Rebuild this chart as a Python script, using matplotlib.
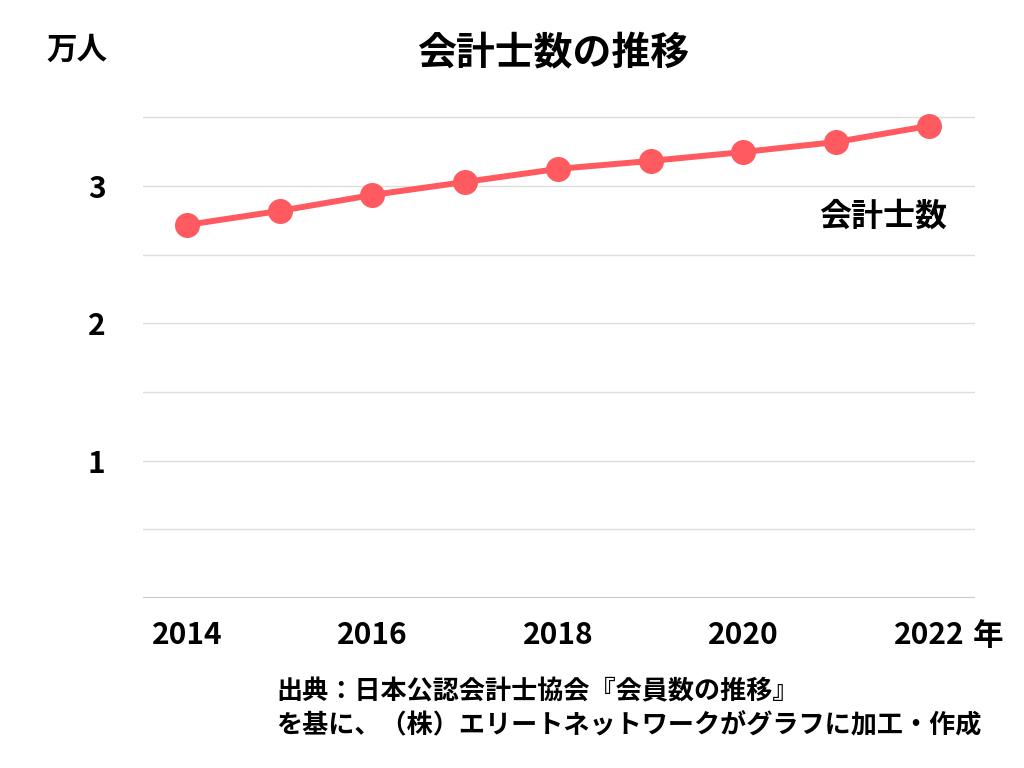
import matplotlib
matplotlib.use("Agg")
import matplotlib.pyplot as plt

plt.rcParams['font.family'] = ['Noto Sans CJK JP', 'DejaVu Sans']

years = [2014, 2015, 2016, 2017, 2018, 2019, 2020, 2021, 2022]
members = [2.717, 2.819, 2.935, 3.030, 3.125, 3.183, 3.248, 3.321, 3.438]  # 万人
xticks = [2014, 2016, 2018, 2020, 2022]
yticks = [1, 2, 3]
red = '#ff5a5f'

fig = plt.figure(figsize=(10.24, 7.68), dpi=100)
ax = fig.add_axes([0.1396, 0.2214, 0.8125, 0.6436])

ax.plot(years, members, color=red, lw=4.3, marker='o', ms=17, zorder=3)

ax.set_xlim(2013.526, 2022.496)
ax.set_ylim(0, 3.6)
ax.set_xticks(xticks)
ax.set_xticklabels([str(y) for y in xticks], fontsize=21.5, fontweight='bold')
ax.set_yticks(yticks)
ax.set_yticklabels([str(y) for y in yticks], fontsize=21.5, fontweight='bold')
ax.tick_params(axis='x', length=0, pad=16)
ax.tick_params(axis='y', length=0, pad=27)

for g in [0.5, 1, 1.5, 2, 2.5, 3, 3.5]:
    ax.axhline(g, color='#dddddd', lw=1, zorder=1)
ax.axhline(0, color='#c8c8c8', lw=1.5, zorder=1)
for s in ax.spines.values():
    s.set_visible(False)

fig.text(0.540, 0.93, '会計士数の推移', ha='center', va='center', fontsize=28, fontweight='bold')
fig.text(0.075, 0.935, '万人', ha='center', va='center', fontsize=22, fontweight='bold')
fig.text(0.965, 0.172, '年', ha='center', va='center', fontsize=22, fontweight='bold')
ax.text(2021.51, 2.775, '会計士数', ha='center', va='center', fontsize=23, fontweight='bold')

fig.text(0.27, 0.099, '出典：日本公認会計士協会『会員数の推移』', ha='left', va='center',
         fontsize=18.8, fontweight='bold')
fig.text(0.27, 0.055, 'を基に、（株）エリートネットワークがグラフに加工・作成', ha='left', va='center',
         fontsize=18.8, fontweight='bold')

fig.savefig('out.png', dpi=100)
